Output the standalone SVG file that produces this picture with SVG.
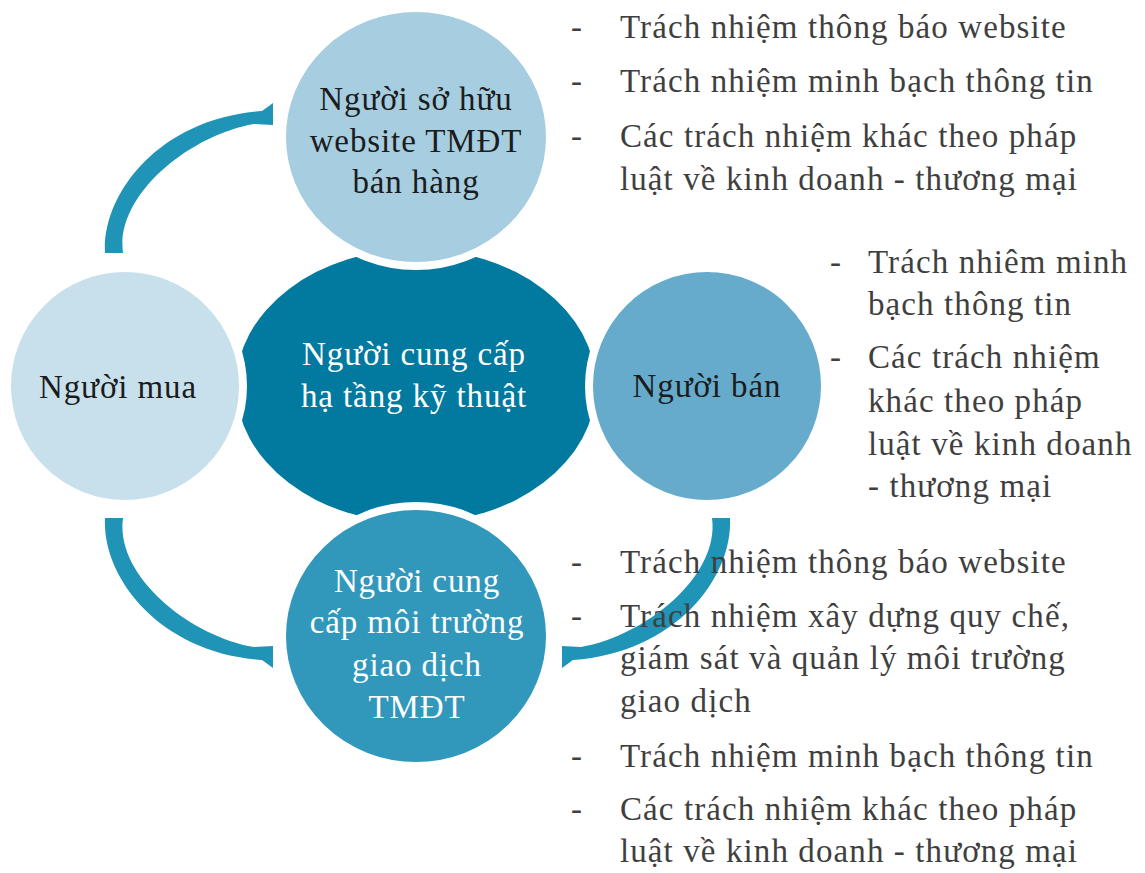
<svg xmlns="http://www.w3.org/2000/svg" xmlns:xlink="http://www.w3.org/1999/xlink" width="1145" height="873" viewBox="0 0 1145 873">
  <style>
    .disc { stroke: #ffffff; stroke-width: 8; }
    .lbl { font-family: "Liberation Serif", "DejaVu Serif", serif; font-size: 33px; letter-spacing: 0.9px; text-anchor: middle; }
    .dark { fill: #1c1c1c; }
    .light { fill: #ffffff; }
    .item { font-family: "Liberation Serif", "DejaVu Serif", serif; font-size: 33px; letter-spacing: 1.1px; fill: #3f3f3f; }
    .arrow { fill: #1f94b6; }
  </style>
  <defs>
    <!-- curved block arrow, drawn once and reused by reflection -->
    <path id="curved-arrow" d="M105,253 C102,193 160,118 262,111 L273,103 L273,125 L254,124 C190,135 115,195 123,253 Z"/>
  </defs>

  <!-- connectors -->
  <g id="connectors" class="arrow">
    <use xlink:href="#curved-arrow"/>
    <use xlink:href="#curved-arrow" transform="translate(0,771) scale(1,-1)"/>
    <use xlink:href="#curved-arrow" transform="translate(835,771) scale(-1,-1)"/>
  </g>

  <!-- central node -->
  <g id="node-infrastructure">
    <ellipse cx="416" cy="386" rx="180" ry="137" fill="#02799f"/>
    <text class="lbl light" x="414" y="365">Người cung cấp</text>
    <text class="lbl light" x="414" y="407">hạ tầng kỹ thuật</text>
  </g>

  <g id="node-website-owner">
    <ellipse class="disc" cx="416" cy="137" rx="134" ry="129" fill="#a6cde0"/>
    <text class="lbl dark" x="416" y="110">Người sở hữu</text>
    <text class="lbl dark" x="416" y="152">website TMĐT</text>
    <text class="lbl dark" x="416" y="193">bán hàng</text>
  </g>

  <g id="node-buyer">
    <circle class="disc" cx="125" cy="386" r="118" fill="#c8e0ec"/>
    <text class="lbl dark" x="118" y="398">Người mua</text>
  </g>

  <g id="node-seller">
    <circle class="disc" cx="707" cy="386" r="118" fill="#66abcb"/>
    <text class="lbl dark" x="707" y="397">Người bán</text>
  </g>

  <g id="node-platform">
    <ellipse class="disc" cx="416" cy="636" rx="134" ry="130" fill="#3198bc"/>
    <text class="lbl light" x="417" y="592">Người cung</text>
    <text class="lbl light" x="417" y="633">cấp môi trường</text>
    <text class="lbl light" x="417" y="676">giao dịch</text>
    <text class="lbl light" x="417" y="718">TMĐT</text>
  </g>

  <!-- duties of the website owner -->
  <g id="list-website-owner" class="item">
    <text x="571" y="38">-</text>
    <text x="620" y="38">Trách nhiệm thông báo website</text>
    <text x="571" y="92">-</text>
    <text x="620" y="92">Trách nhiệm minh bạch thông tin</text>
    <text x="571" y="147">-</text>
    <text x="620" y="147">Các trách nhiệm khác theo pháp</text>
    <text x="620" y="190">luật về kinh doanh - thương mại</text>
  </g>

  <!-- duties of the seller -->
  <g id="list-seller" class="item">
    <text x="830" y="273">-</text>
    <text x="868" y="273">Trách nhiêm minh</text>
    <text x="868" y="315">bạch thông tin</text>
    <text x="830" y="368">-</text>
    <text x="868" y="368">Các trách nhiệm</text>
    <text x="868" y="412">khác theo pháp</text>
    <text x="868" y="455">luật về kinh doanh</text>
    <text x="868" y="497">- thương mại</text>
  </g>

  <!-- duties of the platform provider -->
  <g id="list-platform" class="item">
    <text x="571" y="573">-</text>
    <text x="620" y="573">Trách nhiệm thông báo website</text>
    <text x="571" y="627">-</text>
    <text x="620" y="627">Trách nhiệm xây dựng quy chế,</text>
    <text x="620" y="669">giám sát và quản lý môi trường</text>
    <text x="620" y="712">giao dịch</text>
    <text x="571" y="767">-</text>
    <text x="620" y="767">Trách nhiệm minh bạch thông tin</text>
    <text x="571" y="820">-</text>
    <text x="620" y="820">Các trách nhiệm khác theo pháp</text>
    <text x="620" y="862">luật về kinh doanh - thương mại</text>
  </g>
</svg>
